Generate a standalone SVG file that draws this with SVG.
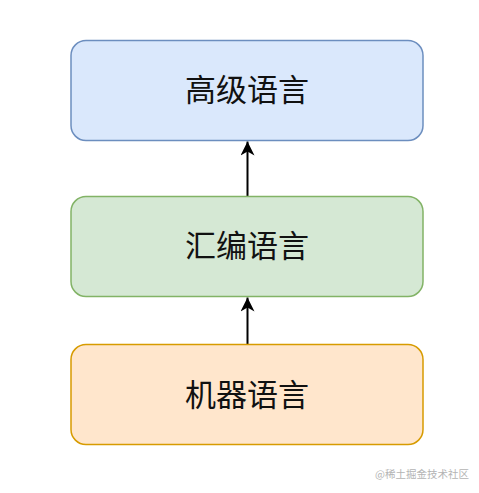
<svg xmlns="http://www.w3.org/2000/svg" width="479" height="493" viewBox="0 0 479 493">
<style>
.box{stroke-width:1.5}
.lbl{font-family:"Noto Sans CJK SC","Noto Sans",sans-serif;font-size:31px;fill:#111;text-anchor:middle}
.conn{stroke:#000;stroke-width:2;fill:none}
.wm{font-family:"Noto Sans CJK SC","Noto Sans",sans-serif;font-size:10.5px;fill:#b4b4b4}
</style>
<defs>
<marker id="arr" markerUnits="userSpaceOnUse" markerWidth="16" markerHeight="16" refX="14" refY="7" orient="auto">
<path d="M0,0 L14,7 L0,14 L4,7 Z" fill="#000"/>
</marker>
</defs>
<rect width="479" height="493" fill="#fff"/>
<g id="connectors">
<line class="conn" x1="247.5" y1="196" x2="247.5" y2="141.5" marker-end="url(#arr)"/>
<line class="conn" x1="247.5" y1="344" x2="247.5" y2="297.5" marker-end="url(#arr)"/>
</g>
<g id="high">
<rect class="box" x="71" y="40.5" width="352" height="100" rx="15" fill="#dae8fc" stroke="#6c8ebf"/>
<text class="lbl" x="247" y="101">高级语言</text>
</g>
<g id="asm">
<rect class="box" x="71" y="196.5" width="352" height="100" rx="15" fill="#d5e8d4" stroke="#82b366"/>
<text class="lbl" x="247" y="257">汇编语言</text>
</g>
<g id="machine">
<rect class="box" x="71" y="344.5" width="352" height="100" rx="15" fill="#ffe6cc" stroke="#d79b00"/>
<text class="lbl" x="247" y="406">机器语言</text>
</g>
<text class="wm" x="375" y="478">@稀土掘金技术社区</text>
</svg>
